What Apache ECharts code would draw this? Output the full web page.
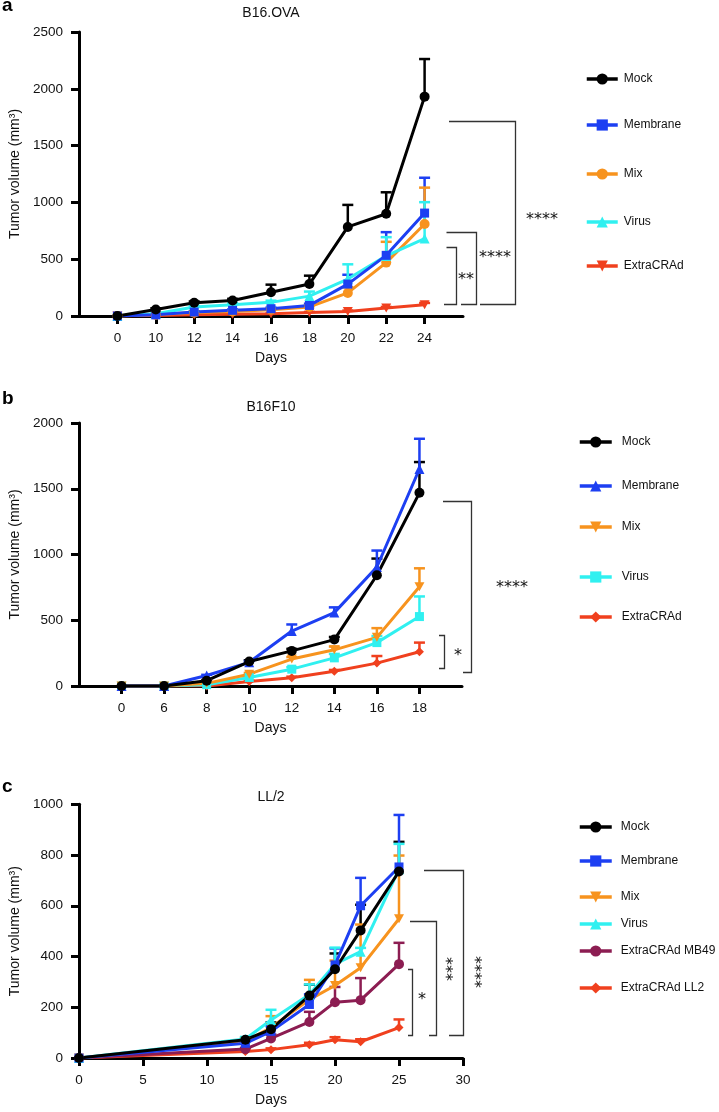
<!DOCTYPE html>
<html><head><meta charset="utf-8">
<script src="https://cdn.jsdelivr.net/npm/echarts@6/dist/echarts.min.js"></script>
<style>
html,body{margin:0;padding:0;background:#fff}
#wrap{position:relative;width:719px;height:1112px}
.p{position:absolute;left:0;width:719px}
#pa{top:0;height:370px}#pb{top:370px;height:370px}#pc{top:740px;height:372px}
</style>
</head><body><div id="wrap"><div id="pa" class="p"></div><div id="pb" class="p"></div><div id="pc" class="p"></div></div>
<script>
// ---------------- DATA ----------------
// Panel a : B16.OVA
const daysA = ['0','10','12','14','16','18','20','22','24'];
const aMock        = [0, 58, 116, 137, 209, 281, 784, 900, 1931];
const aMockSem     = [0, 10, 12, 14, 67, 74, 194, 189, 331];
const aMembrane    = [0, 10, 35, 50, 64, 93, 281, 534, 906];
const aMembraneSem = [0, 4, 6, 8, 10, 15, 82, 204, 311];
const aMix         = [0, 10, 30, 40, 55, 80, 203, 470, 810];
const aMixSem      = [0, 4, 6, 8, 10, 15, 50, 183, 320];
const aVirus       = [0, 20, 80, 100, 120, 175, 325, 529, 682];
const aVirusSem    = [0, 5, 10, 12, 15, 40, 130, 165, 320];
const aExtra       = [0, 5, 10, 15, 20, 30, 40, 70, 100];
const aExtraSem    = [0, 2, 3, 4, 5, 6, 8, 10, 15];

// Panel b : B16F10
const daysB = ['0','6','8','10','12','14','16','18'];
const bMock        = [0, 0, 40, 186, 267, 353, 842, 1469];
const bMockSem     = [0, 0, 5, 10, 15, 20, 127, 234];
const bMembrane    = [0, 0, 80, 180, 418, 558, 905, 1650];
const bMembraneSem = [0, 0, 5, 10, 50, 40, 125, 230];
const bMix         = [0, 0, 20, 90, 205, 275, 370, 755];
const bMixSem      = [0, 0, 3, 10, 15, 25, 70, 140];
const bVirus       = [0, 0, 10, 65, 128, 214, 330, 528];
const bVirusSem    = [0, 0, 3, 10, 15, 30, 50, 153];
const bExtra       = [0, 0, 0, 35, 63, 112, 174, 260];
const bExtraSem    = [0, 0, 0, 5, 8, 10, 54, 70];

// Panel c : LL/2
const daysC = [0, 13, 15, 18, 20, 22, 25];
const cMock        = [0, 72, 113, 246, 350, 503, 735];
const cMockSem     = [0, 8, 27, 43, 62, 101, 117];
const cMembrane    = [0, 58, 105, 211, 367, 600, 753];
const cMembraneSem = [0, 8, 20, 40, 65, 110, 205];
const cMix         = [0, 65, 120, 230, 286, 356, 549];
const cMixSem      = [0, 8, 45, 78, 98, 170, 249];
const cVirus       = [0, 75, 150, 250, 370, 419, 744];
const cVirusSem    = [0, 8, 40, 40, 65, 15, 100];
const cMB49        = [0, 35, 77, 142, 220, 228, 370];
const cMB49Sem     = [0, 5, 15, 40, 60, 87, 84];
const cLL2         = [0, 26, 33, 52, 72, 64, 120];
const cLL2Sem      = [0, 3, 5, 8, 10, 10, 32];

// ---------------- STYLE ----------------
const FONT = '"Liberation Sans", Arial, Helvetica, sans-serif';
const TXT = '#111';
const C = {mock:'#000000', membrane:'#1d3ff2', mix:'#f7931e', virus:'#30f0f0', red:'#f0401e', mb49:'#8c1d52'};

function errRender(params, api){
  const x = api.value(0), y = api.value(1), e = api.value(2);
  if (!e) return null;
  const p0 = api.coord([x, y]), p1 = api.coord([x, y + e]);
  const col = api.visual('color'), hw = 5.5;
  return {type:'group', children:[
    {type:'line', shape:{x1:p0[0], y1:p0[1], x2:p1[0], y2:p1[1]}, style:{stroke:col, lineWidth:2.5}},
    {type:'line', shape:{x1:p1[0]-hw, y1:p1[1], x2:p1[0]+hw, y2:p1[1]}, style:{stroke:col, lineWidth:2.5}}
  ]};
}

function build(p){
  const series = [];
  p.series.forEach(s => {
    series.push({type:'custom', name:s.name+' sem', renderItem:errRender, silent:true, animation:false,
      data:s.values.map((v,i)=>[p.xs[i], v, s.sem[i]]), encode:{x:0, y:1}, itemStyle:{color:s.color}, z:2});
  });
  p.drawOrder.forEach(k => {
    const s = p.series[k];
    series.push({type:'line', name:s.name, data:s.values.map((v,i)=>[p.xs[i], v]),
      symbol:s.symbol, symbolSize:s.size, showSymbol:true, animation:false, silent:true,
      itemStyle:{color:s.color, opacity:1}, lineStyle:{color:s.color, width:3}, z:3});
  });
  const legends = p.series.map((s,i)=>({
    data:[s.name], orient:'vertical', left:p.legendLeft, top:p.legendY[i]-7, padding:0,
    itemWidth:p.legendW, itemHeight:14, selectedMode:false,
    lineStyle:{width:3.5},
    textStyle:{fontSize:12, color:TXT, fontFamily:FONT, padding:[0,0,0,p.legendTextPad]}
  }));
  const axisCommon = {
    axisLine:{show:true, onZero:false, lineStyle:{color:'#000', width:3}},
    splitLine:{show:false},
    nameTextStyle:{fontSize:14, color:TXT, fontFamily:FONT}
  };
  let xAxis;
  if (p.xLabels){
    const idx = p.xLabels.map((_,i)=>i);
    xAxis = Object.assign({}, axisCommon, {type:'value', min:-1, max:p.xLabels.length, interval:1,
      axisTick:{show:true, length:8, lineStyle:{color:'#000', width:3}, customValues:idx},
      axisLabel:{customValues:idx, formatter:v=>p.xLabels[v] ?? '', fontSize:13.5, color:TXT, fontFamily:FONT, margin:15},
      name:'Days', nameLocation:'middle', nameGap:35});
  } else {
    xAxis = Object.assign({}, axisCommon, {type:'value', min:0, max:30, interval:5,
      axisTick:{show:true, length:8, lineStyle:{color:'#000', width:3}},
      axisLabel:{fontSize:13.5, color:TXT, fontFamily:FONT, margin:15, formatter:v=>String(v)},
      name:'Days', nameLocation:'middle', nameGap:35});
  }
  const yAxis = Object.assign({}, axisCommon, {type:'value', min:0, max:p.yMax, interval:p.yInt,
    axisTick:{show:true, length:8, lineStyle:{color:'#000', width:3}},
    axisLabel:{fontSize:13.5, color:TXT, fontFamily:FONT, margin:16, formatter:v=>String(v)},
    name:'Tumor volume (mm³)', nameLocation:'middle', nameGap:57, nameRotate:90});

  const graphic = [
    {type:'text', x:p.titleX, y:p.titleY, style:{text:p.title, font:'14px '+FONT, fill:TXT, textAlign:'center', textVerticalAlign:'middle', align:'center', verticalAlign:'middle'}},
    {type:'text', x:2, y:p.letterY, style:{text:p.letter, font:'bold 19px '+FONT, fill:'#000', textVerticalAlign:'middle', verticalAlign:'middle'}}
  ];
  p.brackets.forEach(b => {
    graphic.push({type:'polyline', shape:{points:b.pts}, style:{stroke:'#333', lineWidth:1.3, fill:null}});
    graphic.push({type:'text', x:b.tx, y:b.ty, rotation:b.rot||0,
      style:{text:b.label, font:'16px "DejaVu Sans", sans-serif', fill:'#111', textAlign:b.rot?'center':'left', align:b.rot?'center':'left', textVerticalAlign:'middle', verticalAlign:'middle'}});
  });
  return {
    animation:false,
    grid:{left:79, top:p.gridTop, width:p.gridW, height:p.gridH, containLabel:false},
    xAxis, yAxis, series, legend:legends, graphic
  };
}

const panels = [
  {id:'pa', title:'B16.OVA', letter:'a', titleX:271, titleY:13, letterY:6,
   gridTop:32, gridW:384, gridH:287, yMax:2500, yInt:500,
   xLabels:daysA, xs:daysA.map((_,i)=>i),
   legendLeft:585, legendW:31, legendTextPad:1, legendY:[80,126,175,223,267],
   series:[
     {name:'Mock', values:aMock, sem:aMockSem, color:C.mock, symbol:'circle', size:10},
     {name:'Membrane', values:aMembrane, sem:aMembraneSem, color:C.membrane, symbol:'rect', size:9},
     {name:'Mix', values:aMix, sem:aMixSem, color:C.mix, symbol:'circle', size:10},
     {name:'Virus', values:aVirus, sem:aVirusSem, color:C.virus, symbol:'triangle', size:10},
     {name:'ExtraCRAd', values:aExtra, sem:aExtraSem, color:C.red, symbol:'path://M0,0L10,0L5,9Z', size:[10,9]}
   ], drawOrder:[4,2,3,1,0],
   brackets:[
     {pts:[[449,121.5],[515.5,121.5],[515.5,304.5],[480,304.5]], label:'****', tx:526, ty:220},
     {pts:[[446.5,232.5],[476.5,232.5],[476.5,304.5],[461,304.5]], label:'****', tx:479, ty:258},
     {pts:[[446.5,247.5],[456.5,247.5],[456.5,304.5],[444,304.5]], label:'**', tx:458, ty:280}
   ]},
  {id:'pb', title:'B16F10', letter:'b', titleX:271, titleY:37, letterY:29,
   gridTop:53, gridW:383, gridH:287, yMax:2000, yInt:500,
   xLabels:daysB, xs:daysB.map((_,i)=>i),
   legendLeft:578, legendW:32, legendTextPad:5, legendY:[73,117,158,208,248],
   series:[
     {name:'Mock', values:bMock, sem:bMockSem, color:C.mock, symbol:'circle', size:10},
     {name:'Membrane', values:bMembrane, sem:bMembraneSem, color:C.membrane, symbol:'triangle', size:10},
     {name:'Mix', values:bMix, sem:bMixSem, color:C.mix, symbol:'path://M0,0L10,0L5,9Z', size:[10,9]},
     {name:'Virus', values:bVirus, sem:bVirusSem, color:C.virus, symbol:'rect', size:9},
     {name:'ExtraCRAd', values:bExtra, sem:bExtraSem, color:C.red, symbol:'diamond', size:9}
   ], drawOrder:[4,3,2,1,0],
   brackets:[
     {pts:[[443,131.5],[471.5,131.5],[471.5,302.5],[463,302.5]], label:'****', tx:496, ty:218},
     {pts:[[439,265.5],[444.5,265.5],[444.5,298.5],[439,298.5]], label:'*', tx:454, ty:286}
   ]},
  {id:'pc', title:'LL/2', letter:'c', titleX:271, titleY:57, letterY:47,
   gridTop:64.3, gridW:384, gridH:256.4, yMax:1000, yInt:200,
   xLabels:null, xs:daysC,
   legendLeft:578, legendW:32, legendTextPad:4, legendY:[88,122,158,185,212,249],
   series:[
     {name:'Mock', values:cMock, sem:cMockSem, color:C.mock, symbol:'circle', size:10},
     {name:'Membrane', values:cMembrane, sem:cMembraneSem, color:C.membrane, symbol:'rect', size:9},
     {name:'Mix', values:cMix, sem:cMixSem, color:C.mix, symbol:'path://M0,0L10,0L5,9Z', size:[10,9]},
     {name:'Virus', values:cVirus, sem:cVirusSem, color:C.virus, symbol:'triangle', size:10},
     {name:'ExtraCRAd MB49', values:cMB49, sem:cMB49Sem, color:C.mb49, symbol:'circle', size:10},
     {name:'ExtraCRAd LL2', values:cLL2, sem:cLL2Sem, color:C.red, symbol:'diamond', size:9}
   ], drawOrder:[5,4,2,3,1,0],
   brackets:[
     {pts:[[424,130.5],[463.5,130.5],[463.5,295.5],[449,295.5]], label:'****', tx:474, ty:232, rot:-Math.PI/2},
     {pts:[[410,181.5],[436.5,181.5],[436.5,295.5],[429,295.5]], label:'***', tx:445, ty:229, rot:-Math.PI/2},
     {pts:[[408,229.5],[412.5,229.5],[412.5,295.5],[408,295.5]], label:'*', tx:418, ty:260}
   ]}
];

panels.forEach(p => {
  const chart = echarts.init(document.getElementById(p.id), null, {renderer:'canvas'});
  chart.setOption(build(p));
});
</script>
</body></html>
